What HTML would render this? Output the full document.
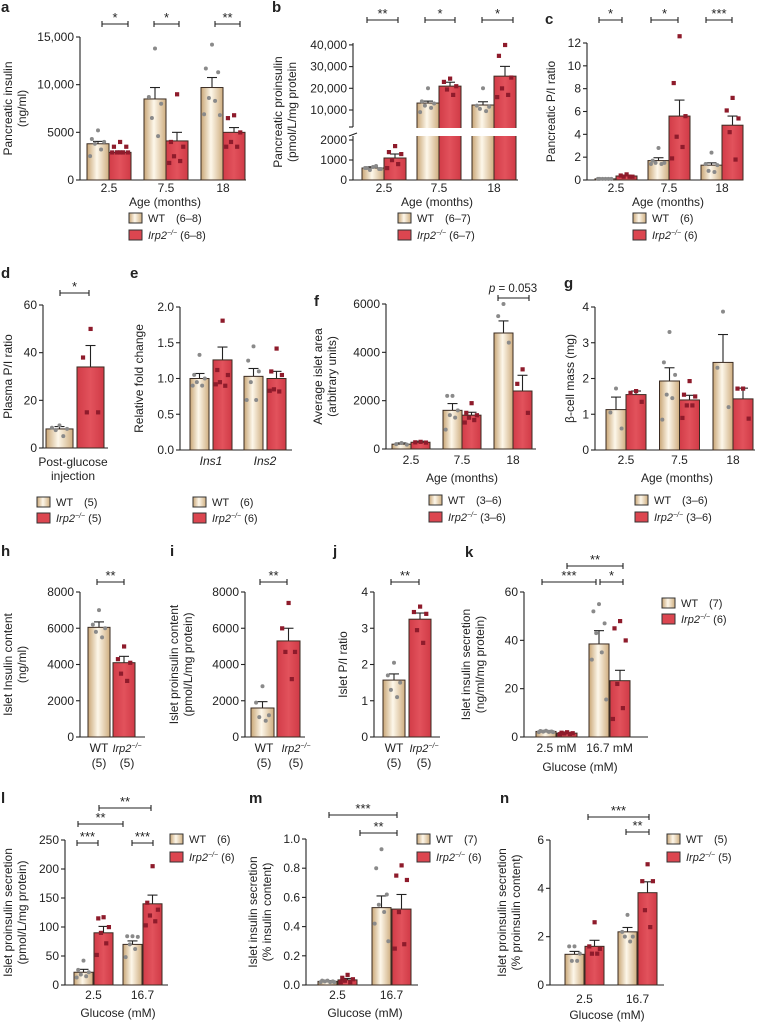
<!DOCTYPE html>
<html><head><meta charset="utf-8"><style>
html,body{margin:0;padding:0;background:#fff;}
svg{display:block;font-family:"Liberation Sans",Arial,sans-serif;}
</style></head><body>
<svg id="fig" xmlns="http://www.w3.org/2000/svg" width="760" height="1022" viewBox="0 0 760 1022">
<defs>
<linearGradient id="wtg" x1="0" x2="1" y1="0" y2="0">
<stop offset="0" stop-color="#c9a676"/><stop offset="0.45" stop-color="#fdf7ea"/><stop offset="1" stop-color="#cfae80"/>
</linearGradient>
<linearGradient id="kog" x1="0" x2="1" y1="0" y2="0">
<stop offset="0" stop-color="#d23c48"/><stop offset="0.5" stop-color="#e2525c"/><stop offset="1" stop-color="#d03a46"/>
</linearGradient>
</defs>
</svg>
<script>
// ---- data arrays ----
const aCats=["2.5","7.5","18"];
const aWT=[3800,8500,9700]; const aWTe=[250,1200,1050];
const aKO=[2900,4100,5000]; const aKOe=[150,900,500];
const aWTp=[[5200,4300,4000,3800,3200,2500],[13800,8700,8000,6500,4600],[14200,11700,11300,8600,8300,6900,6800]];
const aKOp=[[4000,3500,3500,2900,2900,2900,2900,2900],[9000,4000,3500,2500,2000,1800],[6800,6500,5000,4000,3500,3500]];
const aTicks=[0,5000,10000,15000]; const aTickL=["0","5000","10,000","15,000"];

const bCats=["2.5","7.5","18"];
const bWT=[600,13200,12300]; const bWTe=[60,900,1500];
const bKO=[1100,21000,25600]; const bKOe=[200,1800,4500];
const bWTp=[[650,600,550,500,700,600,550],[20000,14000,13000,12000,11000,9000],[20000,12000,11500,10500,9500]];
const bKOp=[[1700,1400,1300,1000,800,600],[24500,23000,21000,19500,17000],[40000,35000,25000,20000,17000,16000]];
const bTicks=[0,1000,2000,10000,20000,30000,40000]; const bTickL=["0","1000","2000","10,000","20,000","30,000","40,000"];

const cCats=["2.5","7.5","18"];
const cWT=[0.1,1.7,1.3]; const cWTe=[0.03,0.25,0.2];
const cKO=[0.35,5.6,4.8]; const cKOe=[0.08,1.4,0.8];
const cWTp=[[0.1,0.1,0.1,0.1,0.1,0.1],[2.8,1.7,1.5,1.5,1.4,1.4],[2.4,1.4,1.3,0.8,0.7]];
const cKOp=[[0.5,0.4,0.3,0.3,0.3],[12.6,8.5,5.6,3.8,2.9,1.9],[7.2,6.1,5.4,4.2,1.8]];
const cTicks=[0,2,4,6,8,10,12]; const cTickL=["0","2","4","6","8","10","12"];

const dCats=["Post-glucose"];
const dWT=[8]; const dWTe=[1]; const dKO=[34]; const dKOe=[9];
const dWTp=[[9.5,8.5,8,7.5,5]]; const dKOp=[[50,38,15,15]];
const dTicks=[0,20,40,60]; const dTickL=["0","20","40","60"];

const eCats=["Ins1","Ins2"];
const eWT=[1.0,1.03]; const eWTe=[0.07,0.11];
const eKO=[1.26,1.0]; const eKOe=[0.18,0.1];
const eWTp=[[1.33,1.05,1.0,0.95,0.9,0.9],[1.45,1.25,1.1,0.95,0.7,0.7]];
const eKOp=[[1.81,1.12,1.05,0.95,0.9,0.92],[1.42,1.1,1.05,0.85,0.82,0.83]];
const eTicks=[0,0.5,1,1.5,2]; const eTickL=["0.0","0.5","1.0","1.5","2.0"];

const fCats=["2.5","7.5","18"];
const fWT=[200,1600,4800]; const fWTe=[50,280,500];
const fKO=[280,1400,2400]; const fKOe=[40,120,650];
const fWTp=[[250,200,180],[2200,2200,1600,1400,1300,800],[6000,5500,4400]];
const fKOp=[[300,280,270],[1900,1500,1400,1300,1200,1100],[3300,2700,1500]];
const fTicks=[0,2000,4000,6000]; const fTickL=["0","2000","4000","6000"];

const gCats=["2.5","7.5","18"];
const gWT=[1.13,1.93,2.45]; const gWTe=[0.35,0.37,0.78];
const gKO=[1.55,1.4,1.43]; const gKOe=[0.1,0.13,0.3];
const gWTp=[[1.72,1.05,0.6],[3.3,2.45,2.1,1.55,1.45,0.85],[3.87,2.3,1.2]];
const gKOp=[[1.65,1.6,1.35],[1.93,1.55,1.5,1.25,1.25,0.9],[1.72,1.72,0.88]];
const gTicks=[0,1,2,3,4]; const gTickL=["0","1","2","3","4"];

const hWT=[6050]; const hWTe=[300]; const hKO=[4100]; const hKOe=[350];
const hWTp=[[7000,6200,6000,5800,5500]]; const hKOp=[[5000,4300,4100,3500,3100]];
const hTicks=[0,2000,4000,6000,8000]; const hTickL=["0","2000","4000","6000","8000"];

const iWT=[1600]; const iWTe=[350]; const iKO=[5300]; const iKOe=[700];
const iWTp=[[2800,1900,1200,1100,900]]; const iKOp=[[7400,6000,4700,4700,3200]];
const iTicks=[0,2000,4000,6000,8000]; const iTickL=["0","2000","4000","6000","8000"];

const jWT=[1.57]; const jWTe=[0.17]; const jKO=[3.25]; const jKOe=[0.17];
const jWTp=[[2.05,1.7,1.5,1.3,1.1]]; const jKOp=[[3.6,3.45,3.4,2.95,2.6]];
const jTicks=[0,1,2,3,4]; const jTickL=["0","1","2","3","4"];

const kCats=["2.5 mM","16.7 mM"];
const kWT=[2.3,38.5]; const kWTe=[0.4,5.5]; const kKO=[1.6,23.3]; const kKOe=[0.3,4.3];
const kWTp=[[2.6,2.5,2.3,2.2,2.1,2.0,2.0],[55,52,47,43,35,32,15.5]];
const kKOp=[[2,1.8,1.6,1.5,1.3,1.2],[48,45,40,22,12,7.5]];
const kTicks=[0,20,40,60]; const kTickL=["0","20","40","60"];

const lCats=["2.5","16.7"];
const lWT=[22,70]; const lWTe=[5,6]; const lKO=[90,140]; const lKOe=[11,15];
const lWTp=[[42,26,22,18,15,13],[84,84,83,70,62,48]];
const lKOp=[[117,115,100,90,72,52],[205,142,130,120,110,103]];
const lTicks=[0,50,100,150,200,250]; const lTickL=["0","50","100","150","200","250"];

const mCats=["2.5","16.7"];
const mWT=[0.025,0.53]; const mWTe=[0.005,0.08]; const mKO=[0.035,0.52]; const mKOe=[0.01,0.1];
const mWTp=[[0.03,0.03,0.025,0.025,0.02,0.02,0.02],[0.93,0.8,0.62,0.55,0.5,0.42,0.3]];
const mKOp=[[0.07,0.05,0.04,0.03,0.02,0.02],[0.82,0.75,0.72,0.5,0.28,0.25]];
const mTicks=[0,0.2,0.4,0.6,0.8,1.0]; const mTickL=["0.0","0.2","0.4","0.6","0.8","1.0"];

const nCats=["2.5","16.7"];
const nWT=[1.27,2.2]; const nWTe=[0.12,0.18]; const nKO=[1.6,3.82]; const nKOe=[0.25,0.45];
const nWTp=[[1.6,1.6,1.3,1.0,1.0],[2.9,2.2,2.0,2.0,1.8]];
const nKOp=[[2.6,1.6,1.5,1.3,1.3],[5.0,4.3,4.3,3.1,2.4]];
const nTicks=[0,2,4,6]; const nTickL=["0","2","4","6"];

// ---- helpers ----
const NS="http://www.w3.org/2000/svg";
const svg=document.getElementById('fig');
function mk(tag,attrs,name,parent){
  const el=document.createElementNS(NS,tag);
  for(const k in attrs) el.setAttribute(k,attrs[k]);
  
  
  (parent||svg).appendChild(el); return el;
}
function txt(x,y,s,name,o){
  o=o||{};
  const el=mk('text',{x:x,y:y,'font-size':o.fs||11,'text-anchor':o.anchor||'middle',fill:'#222'},name,o.parent);
  if(o.bold) el.setAttribute('font-weight','bold');
  if(o.italic) el.setAttribute('font-style','italic');
  if(o.rot) el.setAttribute('transform','rotate(-90 '+x+' '+y+')');
  el.textContent=s; return el;
}
function line(x1,y1,x2,y2,name,w){return mk('line',{x1:x1,y1:y1,x2:x2,y2:y2,stroke:'#222','stroke-width':w||1.1},name);}
function sig(x1,x2,y,stars,name){
  line(x1,y,x2,y,name+'-bracket');
  line(x1,y-3,x1,y+3,name+'-end-left');
  line(x2,y-3,x2,y+3,name+'-end-right');
  txt((x1+x2)/2,y-2,stars,name+'-stars',{fs:13});
}
function koLabel(x,y,name,suffix,anchor){
  const t=mk('text',{x:x,y:y,'font-size':11,'text-anchor':anchor||'start',fill:'#222'},name);
  const a=document.createElementNS(NS,'tspan'); a.setAttribute('font-style','italic'); a.textContent='Irp2'; t.appendChild(a);
  const b=document.createElementNS(NS,'tspan'); b.setAttribute('font-style','italic'); b.setAttribute('font-size','7'); b.setAttribute('dy','-4'); b.textContent='−/−'; t.appendChild(b);
  if(suffix){const c=document.createElementNS(NS,'tspan'); c.setAttribute('dy','4'); c.textContent=suffix; t.appendChild(c);}
  return t;
}
function legend(x,y1,y2,nW,nK,p){
  mk('rect',{x:x,y:y1-9,width:13,height:10,fill:'url(#wtg)',stroke:'#333','stroke-width':1},p+'-legend-wt-swatch');
  txt(x+19,y1,'WT',p+'-legend-wt-label',{anchor:'start',fs:11});
  txt(x+47,y1,nW,p+'-legend-wt-n',{anchor:'start',fs:11});
  mk('rect',{x:x,y:y2-9,width:13,height:10,fill:'#dc4650',stroke:'#333','stroke-width':1},p+'-legend-ko-swatch');
  koLabel(x+19,y2,p+'-legend-ko-label',' '+nK);
}
function panel(c){
  const p=c.id;
  const y=c.ymap||(v=>c.y0-(v-c.vmin)/(c.vmax-c.vmin)*(c.y0-c.y1));
  if(c.broken){
    line(c.ax,c.y0,c.ax,c.lowTop,p+'-y-axis-lower');
    line(c.ax,c.upBot,c.ax,c.y1,p+'-y-axis-upper');
    line(c.ax-4,c.lowTop,c.ax+4,c.lowTop-3,p+'-axis-break-lower');
    line(c.ax-4,c.upBot,c.ax,c.upBot,p+'-axis-break-upper');
  } else line(c.ax,c.y0,c.ax,c.y1,p+'-y-axis');
  line(c.ax,c.y0,c.xe,c.y0,p+'-x-axis');
  c.ticks.forEach((t,i)=>{
    const ty=y(t);
    line(c.ax-4,ty,c.ax,ty,p+'-y-tick');
    txt(c.ax-6,ty+4,c.tickL[i],p+'-y-tick-label',{anchor:'end',fs:12});
  });
  c.wt.forEach((v,g)=>{
    const xl=c.left+g*c.step;
    const xr=xl+c.bw+c.gap;
    [[v,c.wte[g],c.wtp[g],xl,'url(#wtg)','wt'],[c.ko[g],c.koe[g],c.kop[g],xr,'url(#kog)','ko']].forEach(b=>{
      const [val,err,pts,bx,fill,s]=b;
      const top=y(val);
      const cx=bx+c.bw/2;
      line(cx,top,cx,y(val+err),p+'-'+s+'-errorbar-'+g);
      line(cx-5,y(val+err),cx+5,y(val+err),p+'-'+s+'-errorcap-'+g);
      mk('rect',{x:bx,y:top,width:c.bw,height:c.y0-top,fill:fill,stroke:'#3a2b22','stroke-width':1},p+'-bar-'+s+'-'+g);
      if(c.broken && val>2200){
        mk('rect',{x:bx-0.6,y:c.upBot+1,width:c.bw+1.2,height:c.lowTop-c.upBot-1,fill:'#fff'},p+'-bar-break-'+s+'-'+g);
      }
      pts.forEach((pv,k)=>{
        const off=[0,-0.28,0.28,-0.14,0.14,-0.36,0.36,0][k%8]*c.bw;
        const py=y(pv);
        if(s==='wt') mk('circle',{cx:cx+off,cy:py,r:2,fill:'#8a8a8a'},p+'-wt-point');
        else mk('rect',{x:cx+off-2,y:py-2,width:4.2,height:4.2,fill:'#8e1b2b'},p+'-ko-point');
      });
    });
    if(c.cats){
      const lx=xl+c.bw+c.gap/2;
      txt(lx,c.catY,c.cats[g],p+'-x-tick-label',{fs:12,italic:c.catItal});
    }
  });
  txt(c.lx,c.ly,c.letter,p+'-panel-letter',{fs:15,bold:true,anchor:'start'});
  const cy=c.ylCY||(c.y0+c.y1)/2;
  c.ylab.forEach((s,i)=>txt(c.ylx+i*14,cy,s,p+'-y-axis-title',{rot:true,fs:12}));
  if(c.xtitle) txt(c.xtx,c.xty,c.xtitle,p+'-x-axis-title',{fs:12});
}

// ---- panels ----
panel({id:'a',letter:'a',lx:1,ly:12,ax:80,y0:180,y1:37,vmin:0,vmax:15000,ticks:aTicks,tickL:aTickL,xe:246,left:87,step:57,bw:22,gap:0,
 wt:aWT,wte:aWTe,ko:aKO,koe:aKOe,wtp:aWTp,kop:aKOp,cats:aCats,catY:192,ylab:["Pancreatic insulin","(ng/ml)"],ylx:12,xtitle:"Age (months)",xtx:165,xty:206});
sig(102,128,24,"*",'a-sig-1'); sig(154,179,24,"*",'a-sig-2'); sig(215,240,24,"**",'a-sig-3');
legend(129,222,239,"(6–8)","(6–8)",'a');

const bLow=v=>180-v*0.02;
panel({id:'b',letter:'b',lx:272,ly:12,ax:353,y0:180,y1:43,broken:true,lowTop:136,upBot:127,
 ymap:v=>v<=2200?bLow(v):110-(v-10000)*0.00217,ticks:bTicks,tickL:bTickL,xe:518,left:362,step:55,bw:22,gap:0,
 wt:bWT,wte:bWTe,ko:bKO,koe:bKOe,wtp:bWTp,kop:bKOp,cats:bCats,catY:192,ylab:["Pancreatic proinsulin","(pmol/L/mg protein"],ylx:282,ylCY:112,xtitle:"Age (months)",xtx:437,xty:206});
sig(367,398,20,"**",'b-sig-1'); sig(425,455,20,"*",'b-sig-2'); sig(482,513,20,"*",'b-sig-3');
legend(398,222,239,"(6–7)","(6–7)",'b');

panel({id:'c',letter:'c',lx:545,ly:24,ax:587,y0:180,y1:43,vmin:0,vmax:12,ticks:cTicks,tickL:cTickL,xe:742,left:595,step:53,bw:21,gap:0,
 wt:cWT,wte:cWTe,ko:cKO,koe:cKOe,wtp:cWTp,kop:cKOp,cats:cCats,catY:192,ylab:["Pancreatic P/I ratio"],ylx:555,xtitle:"Age (months)",xtx:668,xty:206});
sig(599,622,20,"*",'c-sig-1'); sig(651,678,20,"*",'c-sig-2'); sig(706,732,20,"***",'c-sig-3');
legend(633,222,239,"(6)","(6)",'c');

panel({id:'d',letter:'d',lx:1,ly:278,ax:43,y0:448,y1:305,vmin:0,vmax:60,ticks:dTicks,tickL:dTickL,xe:108,left:46,step:50,bw:27,gap:4,
 wt:dWT,wte:dWTe,ko:dKO,koe:dKOe,wtp:dWTp,kop:dKOp,ylab:["Plasma P/I ratio"],ylx:12});
txt(73,466,"Post-glucose",'d-x-label-line1',{fs:12}); txt(73,480,"injection",'d-x-label-line2',{fs:12});
sig(60,89,293,"*",'d-sig-1');
legend(37,506,522,"(5)","(5)",'d');

panel({id:'e',letter:'e',lx:130,ly:278,ax:180,y0:450,y1:307,vmin:0,vmax:2,ticks:eTicks,tickL:eTickL,xe:292,left:190,step:54,bw:19,gap:4,
 wt:eWT,wte:eWTe,ko:eKO,koe:eKOe,wtp:eWTp,kop:eKOp,cats:eCats,catItal:true,catY:465,ylab:["Relative fold change"],ylx:143});
legend(193,506,522,"(6)","(6)",'e');

panel({id:'f',letter:'f',lx:314,ly:306,ax:386,y0:449,y1:304,vmin:0,vmax:6000,ticks:fTicks,tickL:fTickL,xe:536,left:392,step:51,bw:19,gap:0,
 wt:fWT,wte:fWTe,ko:fKO,koe:fKOe,wtp:fWTp,kop:fKOp,cats:fCats,catY:464,ylab:["Average islet area","(arbitrary units)"],ylx:322,xtitle:"Age (months)",xtx:462,xty:482});
line(498,298,529,298,'f-pvalue-bracket'); line(498,295,498,301,'f-pvalue-end-left'); line(529,295,529,301,'f-pvalue-end-right');
const pv=mk('text',{x:513,y:292,'font-size':11.5,'text-anchor':'middle',fill:'#222'},'f-pvalue-label');
pv.innerHTML='<tspan font-style="italic">p</tspan> = 0.053';
legend(429,504,521,"(3–6)","(3–6)",'f');

panel({id:'g',letter:'g',lx:564,ly:288,ax:595,y0:450,y1:307,vmin:0,vmax:4,ticks:gTicks,tickL:gTickL,xe:755,left:606,step:53.5,bw:20,gap:0,
 wt:gWT,wte:gWTe,ko:gKO,koe:gKOe,wtp:gWTp,kop:gKOp,cats:gCats,catY:464,ylab:["β-cell mass (mg)"],ylx:574,xtitle:"Age (months)",xtx:677,xty:482});
legend(635,504,521,"(3–6)","(3–6)",'g');

panel({id:'h',letter:'h',lx:1,ly:556,ax:80,y0:737,y1:592,vmin:0,vmax:8000,ticks:hTicks,tickL:hTickL,xe:145,left:88,step:50,bw:22,gap:3,
 wt:hWT,wte:hWTe,ko:hKO,koe:hKOe,wtp:hWTp,kop:hKOp,ylab:["Islet Insulin content","(ng/ml)"],ylx:12});
sig(97,124,582,"**",'h-sig-1');

panel({id:'i',letter:'i',lx:170,ly:556,ax:245,y0:737,y1:592,vmin:0,vmax:8000,ticks:iTicks,tickL:iTickL,xe:305,left:251,step:50,bw:23,gap:3,
 wt:iWT,wte:iWTe,ko:iKO,koe:iKOe,wtp:iWTp,kop:iKOp,ylab:["Islet proinsulin content","(pmol/L/mg protein)"],ylx:178});
sig(260,287,582,"**",'i-sig-1');

panel({id:'j',letter:'j',lx:333,ly:556,ax:374,y0:737,y1:592,vmin:0,vmax:4,ticks:jTicks,tickL:jTickL,xe:440,left:383,step:50,bw:22,gap:4,
 wt:jWT,wte:jWTe,ko:jKO,koe:jKOe,wtp:jWTp,kop:jKOp,ylab:["Islet P/I ratio"],ylx:347});
sig(391,419,582,"**",'j-sig-1');

[[99,127,'h'],[264,296,'i'],[394,424,'j']].forEach(q=>{
  txt(q[0],752,"WT",q[2]+'-x-label-wt',{fs:12});
  koLabel(q[1],752,q[2]+'-x-label-ko',null,'middle');
  txt(q[0],767,"(5)",q[2]+'-n-wt',{fs:12});
  txt(q[1],767,"(5)",q[2]+'-n-ko',{fs:12});
});

panel({id:'k',letter:'k',lx:465,ly:557,ax:524,y0:737,y1:592,vmin:0,vmax:60,ticks:kTicks,tickL:kTickL,xe:648,left:536,step:53,bw:20,gap:1,
 wt:kWT,wte:kWTe,ko:kKO,koe:kKOe,wtp:kWTp,kop:kKOp,cats:kCats,catY:752,ylab:["Islet insulin secretion","(ng/ml/mg protein)"],ylx:470,xtitle:"Glucose (mM)",xtx:580,xty:771});
sig(542,596,582,"***",'k-sig-1'); sig(600,623,582,"*",'k-sig-2'); sig(567,623,566,"**",'k-sig-3');
legend(662,607,623,"(7)","(6)",'k');

panel({id:'l',letter:'l',lx:1,ly:803,ax:65,y0:985,y1:840,vmin:0,vmax:250,ticks:lTicks,tickL:lTickL,xe:168,left:74,step:49,bw:19,gap:1,
 wt:lWT,wte:lWTe,ko:lKO,koe:lKOe,wtp:lWTp,kop:lKOp,cats:lCats,catY:999,ylab:["Islet proinsulin secretion","(pmol/L/mg protein)"],ylx:12,xtitle:"Glucose (mM)",xtx:118,xty:1017});
sig(77,98,843,"***",'l-sig-1'); sig(132,153,843,"***",'l-sig-2'); sig(78,123,824,"**",'l-sig-3'); sig(99,151,808,"**",'l-sig-4');
legend(170,843,861,"(6)","(6)",'l');

panel({id:'m',letter:'m',lx:249,ly:803,ax:306,y0:985,y1:839,vmin:0,vmax:1,ticks:mTicks,tickL:mTickL,xe:418,left:318,step:54,bw:19,gap:1,
 wt:mWT,wte:mWTe,ko:mKO,koe:mKOe,wtp:mWTp,kop:mKOp,cats:mCats,catY:999,ylab:["Islet insulin secretion","(% insulin content)"],ylx:257,xtitle:"Glucose (mM)",xtx:365,xty:1017});
sig(329,397,815,"***",'m-sig-1'); sig(360,397,833,"**",'m-sig-2');
legend(417,843,861,"(7)","(6)",'m');

panel({id:'n',letter:'n',lx:500,ly:803,ax:550,y0:985,y1:840,vmin:0,vmax:6,ticks:nTicks,tickL:nTickL,xe:664,left:565,step:53,bw:19,gap:1,
 wt:nWT,wte:nWTe,ko:nKO,koe:nKOe,wtp:nWTp,kop:nKOp,cats:nCats,catY:1003,ylab:["Islet proinsulin secretion","(% proinsulin content)"],ylx:506,xtitle:"Glucose (mM)",xtx:607,xty:1019});
sig(588,649,817,"***",'n-sig-1'); sig(626,649,832,"**",'n-sig-2');
legend(667,843,861,"(5)","(5)",'n');
</script>
</body></html>
